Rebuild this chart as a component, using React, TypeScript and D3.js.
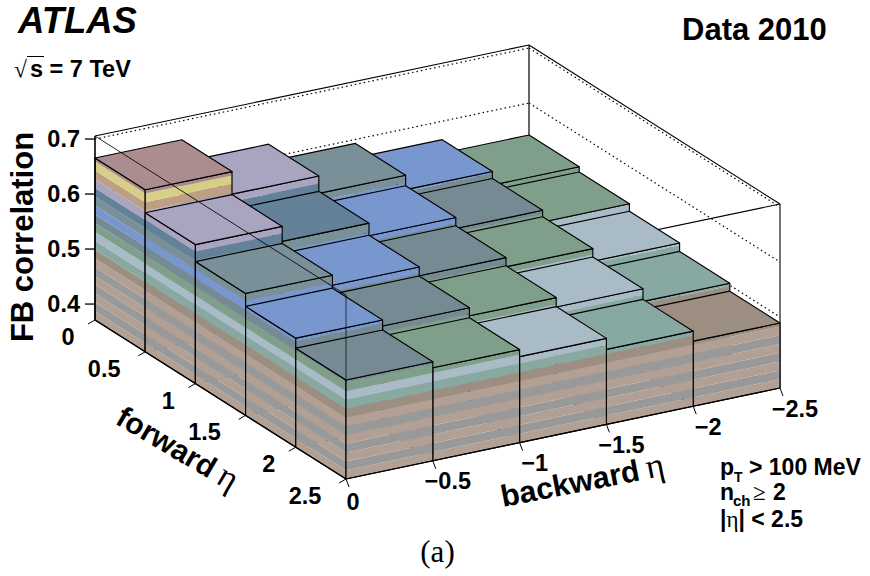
import React from "react";
import * as d3 from "d3";

// FB correlation per forward-eta row, listed from backward eta 0 to -2.5
const row0 = [0.6655, 0.6245, 0.5928, 0.5665, 0.5419];
const row1 = [0.6237, 0.5965, 0.5737, 0.5537, 0.5325];
const row2 = [0.5928, 0.5746, 0.5586, 0.5419, 0.519];
const row3 = [0.5692, 0.5583, 0.5437, 0.5266, 0.5037];
const row4 = [0.551, 0.5401, 0.5274, 0.5074, 0.4892];
const rows = [row0, row1, row2, row3, row4];
const forwardEdges = [0, 0.5, 1, 1.5, 2, 2.5];
const backwardEdges = [0, -0.5, -1, -1.5, -2, -2.5];
const zTicks = [0.4, 0.5, 0.6, 0.7];
const zGrid = [0.5, 0.6, 0.7];
const levelStep = 0.016;
const zMin = 0.371;
const zMax = 0.7055;
const palette = [
  "#b2a095", "#999999", "#b2a095", "#999999", "#b2a095", "#999999", "#b2a095",
  "#9c8e80", "#88a9a1", "#a9bbc6", "#7f9f8a", "#758a92", "#7897cf", "#7a9098",
  "#64819a", "#a9a4bf", "#bc9f85", "#d7cf87", "#ab8c8f",
];

const fX = d3.scaleLinear().domain([0, 2.5]).range([0, 251]);
const fY = d3.scaleLinear().domain([0, 2.5]).range([0, 159]);
const bX = d3.scaleLinear().domain([0, -2.5]).range([0, 434]);
const bY = d3.scaleLinear().domain([0, -2.5]).range([0, -91]);
const zY = d3.scaleLinear().domain([zMin, zMax]).range([0, 184]);

const ORIGIN_X = 95;
const ORIGIN_Y = 320;
const P = (f: number, b: number, z: number): [number, number] => [
  ORIGIN_X + fX(f) + bX(b),
  ORIGIN_Y + fY(f) + bY(b) - zY(z),
];
const pts = (a: [number, number][]) => a.map((p) => p.join(",")).join(" ");
const seg = (a: [number, number], b: [number, number]) => ({ x1: a[0], y1: a[1], x2: b[0], y2: b[1] });
const levelOf = (z: number) => Math.min(palette.length - 1, Math.floor((z - zMin) / levelStep + 1e-6));
const levelZ = (i: number) => zMin + i * levelStep;

function Face({ a, b, top, keyName }: { a: [number, number]; b: [number, number]; top: number; keyName: string }) {
  const n = levelOf(top);
  const bands = d3.range(0, n + 1).map((i) => {
    const lo = levelZ(i);
    const hi = Math.min(top, levelZ(i + 1));
    return (
      <polygon
        key={keyName + i}
        points={pts([P(a[0], a[1], lo), P(b[0], b[1], lo), P(b[0], b[1], hi), P(a[0], a[1], hi)])}
        fill={palette[i]}
      />
    );
  });
  return (
    <g>
      {bands}
      <polygon
        points={pts([P(a[0], a[1], zMin), P(b[0], b[1], zMin), P(b[0], b[1], top), P(a[0], a[1], top)])}
        fill="none"
        stroke="#000"
        strokeWidth={1.15}
        strokeLinejoin="round"
      />
    </g>
  );
}

const axisFont = "'Liberation Sans', Arial, sans-serif";
const serif = "'Liberation Serif', serif";
const bold = { fontFamily: axisFont, fontWeight: 700, fill: "#000" } as const;

export default function App() {
  const bars: React.ReactNode[] = [];
  rows.forEach((row, fi) => {
    for (let bi = row.length - 1; bi >= 0; bi--) {
      const z = row[bi];
      const f0 = forwardEdges[fi];
      const f1 = forwardEdges[fi + 1];
      const b0 = backwardEdges[bi];
      const b1 = backwardEdges[bi + 1];
      bars.push(
        <g key={`${fi}-${bi}`}>
          <Face a={[f0, b0]} b={[f1, b0]} top={z} keyName="l" />
          <Face a={[f1, b0]} b={[f1, b1]} top={z} keyName="r" />
          <polygon
            points={pts([P(f0, b0, z), P(f1, b0, z), P(f1, b1, z), P(f0, b1, z)])}
            fill={palette[levelOf(z)]}
            stroke="#000"
            strokeWidth={1.15}
            strokeLinejoin="round"
          />
        </g>
      );
    }
  });

  const fMax = 2.5;
  const bMax = -2.5;
  return (
    <svg width={870} height={576} style={{ position: "absolute", left: 0, top: 0, background: "#fff" }}>
      {/* back walls */}
      <g stroke="#000" strokeWidth={1.1} fill="none">
        <line {...seg(P(0, 0, zMax), P(0, bMax, zMax))} />
        <line {...seg(P(0, bMax, zMax), P(fMax, bMax, zMax))} />
        <line {...seg(P(0, bMax, zMin), P(0, bMax, zMax))} strokeWidth={1.2} />
        <line {...seg(P(fMax, bMax, zMin), P(fMax, bMax, zMax))} />
        <line {...seg(P(fMax, 0, zMax), P(fMax, bMax, zMax))} />
        {zGrid.map((z) => (
          <g key={z} strokeDasharray="1.5 3" strokeWidth={1.2}>
            <line {...seg(P(0, 0, z), P(0, bMax, z))} />
            <line {...seg(P(0, bMax, z), P(fMax, bMax, z))} />
          </g>
        ))}
      </g>

      {bars}

      {/* front frame edges drawn across the bars */}
      <g stroke="#000" fill="none">
        <line {...seg(P(0, 0, zMax), P(fMax, 0, zMax))} strokeWidth={1} strokeOpacity={0.85} />
        <line {...seg(P(fMax, 0, zMax), P(fMax, 0, row4[0]))} strokeWidth={1} strokeOpacity={0.7} />
        <line {...seg(P(0, 0, zMin), P(0, 0, zMax))} strokeWidth={1.6} />
        <line {...seg(P(0, 0, zMin), P(fMax, 0, zMin))} strokeWidth={1.2} />
        <line {...seg(P(fMax, 0, zMin), P(fMax, bMax, zMin))} strokeWidth={1.2} />
      </g>

      {/* z axis */}
      {zTicks.map((t) => {
        const [x, y] = P(0, 0, t);
        return (
          <g key={t}>
            <line x1={x - 10} x2={x} y1={y} y2={y} stroke="#000" strokeWidth={1.3} />
            <text x={x - 15} y={y + 8} textAnchor="end" fontSize={23.5} {...bold}>
              {t.toFixed(1)}
            </text>
          </g>
        );
      })}

      {/* forward axis */}
      {forwardEdges.map((t) => {
        const [x, y] = P(t, 0, zMin);
        const long = t % 1 !== 0;
        return (
          <g key={t}>
            <line x1={x} y1={y} x2={x - 7} y2={y + 4} stroke="#000" strokeWidth={1} />
            <text x={x + (long ? -41 : -27)} y={y + 25} textAnchor="middle" fontSize={23.5} {...bold}>
              {String(t)}
            </text>
          </g>
        );
      })}

      {/* backward axis */}
      {backwardEdges.map((t) => {
        const [x, y] = P(fMax, t, zMin);
        const label = t === 0 ? "0" : `\u2212${Math.abs(t)}`;
        return (
          <g key={t}>
            <line x1={x} y1={y} x2={x + 3} y2={y + 8} stroke="#000" strokeWidth={1} />
            <text x={x + (t === 0 ? 7 : 15)} y={y + (t === 0 ? 31 : 28.5)} textAnchor="middle" fontSize={23.5} {...bold}>
              {label}
            </text>
          </g>
        );
      })}

      <text transform="translate(33,237) rotate(-90)" textAnchor="middle" fontSize={31} {...bold}>
        FB correlation
      </text>
      <text transform="translate(114,423) rotate(30.5)" fontSize={30} {...bold}>
        forward<tspan dx={7} fontFamily={serif} fontWeight={400} fontSize={35}>η</tspan>
      </text>
      <text transform="translate(503,507) rotate(-11)" fontSize={30.5} {...bold}>
        backward<tspan dx={7} fontFamily={serif} fontWeight={400} fontSize={35}>η</tspan>
      </text>

      <text x={18} y={33} fontSize={36.5} fontStyle="italic" {...bold}>ATLAS</text>
      <text x={682} y={40} fontSize={31} {...bold}>Data 2010</text>
      <text x={14} y={77} fontSize={23.5} {...bold}>
        <tspan fontFamily={serif} fontWeight={400}>√</tspan>
        <tspan x={30}>s = 7 TeV</tspan>
      </text>
      <line x1={27} x2={44} y1={56.5} y2={56.5} stroke="#000" strokeWidth={1} />

      <text x={720} y={475} fontSize={23} {...bold}>
        p<tspan x={734} dy={7} fontSize={14}>T</tspan><tspan x={749} dy={-7}>&gt; 100 MeV</tspan>
      </text>
      <text x={720} y={500} fontSize={23} {...bold}>
        n<tspan x={733} dy={6} fontSize={15}>ch</tspan><tspan x={753} dy={-6} fontFamily={serif} fontWeight={400}>≥</tspan><tspan x={773}>2</tspan>
      </text>
      <text x={720} y={527} fontSize={23} {...bold}>
        |<tspan fontFamily={serif} fontWeight={400}>η</tspan>| &lt; 2.5
      </text>
      <text x={437.5} y={562} textAnchor="middle" fontSize={31} fontFamily={serif} fill="#000">(a)</text>
    </svg>
  );
}
